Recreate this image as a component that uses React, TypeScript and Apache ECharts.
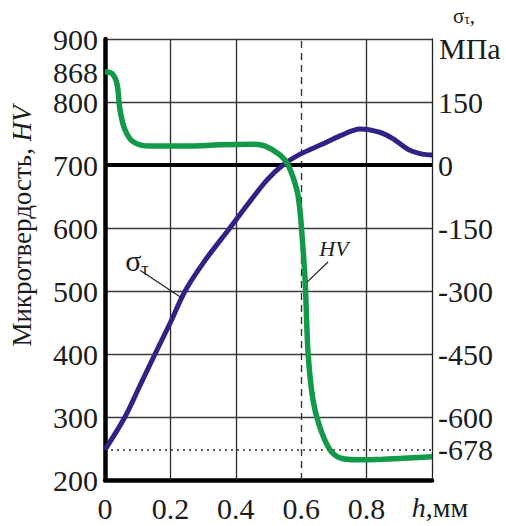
import React, { useEffect, useRef } from "react";
import * as echarts from "echarts";

// depth h, mm  -> residual stress σт, MPa (blue curve)
const hBlue = [0, 0.061, 0.107, 0.153, 0.2, 0.245, 0.306, 0.382, 0.44, 0.495, 0.544, 0.6, 0.66, 0.72, 0.78, 0.84, 0.88, 0.93, 0.97, 1.0];
const sigmaValues = [-678, -600, -525, -450, -375, -300, -227, -150, -90, -36, 0, 27, 48, 70, 86, 78, 63, 36, 26, 24];

// depth h, mm -> microhardness HV (green curve)
const hGreen = [0, 0.022, 0.037, 0.046, 0.061, 0.086, 0.138, 0.25, 0.35, 0.45, 0.49, 0.535, 0.56, 0.587, 0.596, 0.602, 0.612, 0.621, 0.636, 0.657, 0.688, 0.719, 0.771, 0.85, 1.0];
const hvValues = [848, 845, 828, 787, 756, 737, 730, 730, 732, 733, 730, 716, 700, 660, 629, 592, 517, 402, 327, 284, 248, 235, 232, 233, 237];

const leftTicks = [200, 300, 400, 500, 600, 700, 800, 900];
const surfaceLabel = "868"; // annotated surface hardness, written at the curve's start
const rightTicks = [150, 0, -150, -300, -450, -600, -678];
const xGridSolid = [0.2, 0.4, 0.8];
const xGridDashed = [0.6];

const FONT = "Liberation Serif";
const TXT = "#1c1c1c";
const BLUE = "#2f2386";
const GREEN = "#12994a";

export default function App() {
  const ref = useRef<HTMLDivElement>(null);
  useEffect(() => {
    if (!ref.current) return;
    const chart = echarts.init(ref.current, null, { renderer: "svg" });
    const option: any = {
      animation: false,
      backgroundColor: "#ffffff",
      textStyle: { fontFamily: FONT },
      grid: { left: 105, right: 74, top: 39, bottom: 46 },
      xAxis: {
        type: "value",
        min: 0,
        max: 1,
        interval: 0.2,
        axisLine: { show: true, onZero: false, lineStyle: { color: "#000", width: 4.5 } },
        axisTick: { show: false },
        splitLine: { show: false },
        axisLabel: {
          margin: 13,
          fontSize: 30,
          fontFamily: FONT,
          color: TXT,
          showMinLabel: true,
          showMaxLabel: true,
          formatter: (v: number) => {
            const r = Number(v.toFixed(1));
            if (r === 1) return "{i|h}{r|,мм}";
            return String(r);
          },
          rich: {
            i: { fontSize: 28, fontFamily: FONT, fontStyle: "italic", color: TXT, padding: [0, 0, 8, 16] },
            r: { fontSize: 28, fontFamily: FONT, color: TXT, padding: [0, 0, 8, 0] },
          },
        },
      },
      yAxis: [
        {
          type: "value",
          min: 200,
          max: 900,
          interval: 100,
          position: "left",
          axisLine: { show: true, onZero: false, lineStyle: { color: "#000", width: 4.5 } },
          axisTick: { show: false },
          splitLine: { show: true, lineStyle: { color: "#3a3a3a", width: 1.3 } },
          axisLabel: {
            customValues: leftTicks,
            showMinLabel: true,
            showMaxLabel: true,
            margin: 7,
            fontSize: 30,
            lineHeight: 22,
            fontFamily: FONT,
            color: TXT,
          },
        },
        {
          type: "value",
          min: -750,
          max: 300,
          interval: 150,
          position: "right",
          axisLine: { show: true, onZero: false, lineStyle: { color: "#222", width: 1.3 } },
          axisTick: { show: false },
          splitLine: { show: false },
          axisLabel: {
            customValues: rightTicks,
            showMinLabel: true,
            showMaxLabel: true,
            hideOverlap: false,
            margin: 6,
            fontSize: 30,
            lineHeight: 18,
            fontFamily: FONT,
            color: TXT,
          },
        },
      ],
      series: [
        {
          type: "line",
          name: "σт",
          yAxisIndex: 1,
          data: hBlue.map((h, i) => [h, sigmaValues[i]]),
          smooth: 0.3,
          showSymbol: false,
          symbol: "none",
          lineStyle: { color: BLUE, width: 5 },
          z: 3,
          markLine: {
            silent: true,
            symbol: "none",
            z: 1,
            label: { show: false },
            data: [
              {
                yAxis: -678,
                lineStyle: { color: "#333", width: 1.6, type: [2, 4] },
              },
            ],
          },
        },
        {
          type: "line",
          name: "HV",
          yAxisIndex: 0,
          data: hGreen.map((h, i) => [h, hvValues[i]]),
          smooth: 0.3,
          showSymbol: false,
          symbol: "none",
          lineStyle: { color: GREEN, width: 5.5 },
          z: 4,
          markLine: {
            silent: true,
            symbol: "none",
            z: 1,
            label: { show: false },
            data: [
              ...xGridSolid.map((x) => ({ xAxis: x, lineStyle: { color: "#2a2a2a", width: 1.3, type: "solid" } })),
              ...xGridDashed.map((x) => ({ xAxis: x, lineStyle: { color: "#2a2a2a", width: 1.3, type: [7, 5] } })),
              { yAxis: 700, lineStyle: { color: "#000", width: 4, type: "solid" } },
            ],
          },
        },
      ],
    };
    chart.setOption(option);

    const px = (x: number, y: number) =>
      chart.convertToPixel({ xAxisIndex: 0, yAxisIndex: 0 } as any, [x, y]) as number[];

    // annotation anchors in data space (h, HV-scale)
    const extraTick = px(hGreen[0], hvValues[0]);
    const sigLabel = px(0.098, 549);
    const sigA = px(0.107, 533);
    const sigB = px(0.235, 489);
    const hvLabel = px(0.7, 568);
    const hvA = px(0.682, 546);
    const hvB = px(0.618, 514);

    chart.setOption({
      graphic: [
        {
          type: "text",
          x: extraTick[0] - 7,
          y: extraTick[1] + 1,
          style: {
            text: surfaceLabel,
            fontSize: 30,
            lineHeight: 22,
            fontFamily: FONT,
            fill: TXT,
            align: "right",
            verticalAlign: "middle",
          },
        },
        {
          type: "text",
          x: 22,
          y: 226,
          rotation: Math.PI / 2,
          style: {
            text: "{a|Микротвердость, }{b|HV}",
            align: "center",
            verticalAlign: "middle",
            rich: {
              a: { fontSize: 27, fontFamily: FONT, fill: TXT, color: TXT },
              b: { fontSize: 27, fontFamily: FONT, fontStyle: "italic", fill: TXT, color: TXT },
            },
          },
        },
        {
          type: "text",
          x: 464,
          y: 16,
          style: {
            text: "{a|σ}{b|τ}{a|,}",
            align: "center",
            verticalAlign: "middle",
            rich: {
              a: { fontSize: 21, fontFamily: FONT, fill: TXT, color: TXT, verticalAlign: "bottom", lineHeight: 20 },
              b: { fontSize: 14, fontFamily: FONT, fill: TXT, color: TXT, verticalAlign: "bottom", lineHeight: 14 },
            },
          },
        },
        {
          type: "text",
          x: 439,
          y: 48,
          style: {
            text: "МПа",
            fontSize: 30,
            fontFamily: FONT,
            fill: TXT,
            align: "left",
            verticalAlign: "middle",
          },
        },
        {
          type: "text",
          x: sigLabel[0],
          y: sigLabel[1],
          z: 10,
          style: {
            text: "{a|σ}{b|τ}",
            align: "center",
            verticalAlign: "middle",
            rich: {
              a: { fontSize: 30, fontFamily: FONT, fill: TXT, color: TXT, verticalAlign: "bottom" },
              b: { fontSize: 19, fontFamily: FONT, fill: TXT, color: TXT, verticalAlign: "bottom", padding: [0, 0, -3, 0] },
            },
          },
        },
        {
          type: "line",
          z: 10,
          shape: { x1: sigA[0], y1: sigA[1], x2: sigB[0], y2: sigB[1] },
          style: { stroke: "#222", lineWidth: 1.2 },
        },
        {
          type: "text",
          x: hvLabel[0],
          y: hvLabel[1],
          z: 10,
          style: {
            text: "HV",
            fontSize: 22,
            fontFamily: FONT,
            fontStyle: "italic",
            fill: TXT,
            align: "center",
            verticalAlign: "middle",
          },
        },
        {
          type: "line",
          z: 10,
          shape: { x1: hvA[0], y1: hvA[1], x2: hvB[0], y2: hvB[1] },
          style: { stroke: "#222", lineWidth: 1.2 },
        },
      ],
    });

    return () => chart.dispose();
  }, []);
  return (
    <div
      ref={ref}
      style={{ position: "fixed", left: 0, top: 0, width: 506, height: 526, background: "#fff" }}
    />
  );
}
